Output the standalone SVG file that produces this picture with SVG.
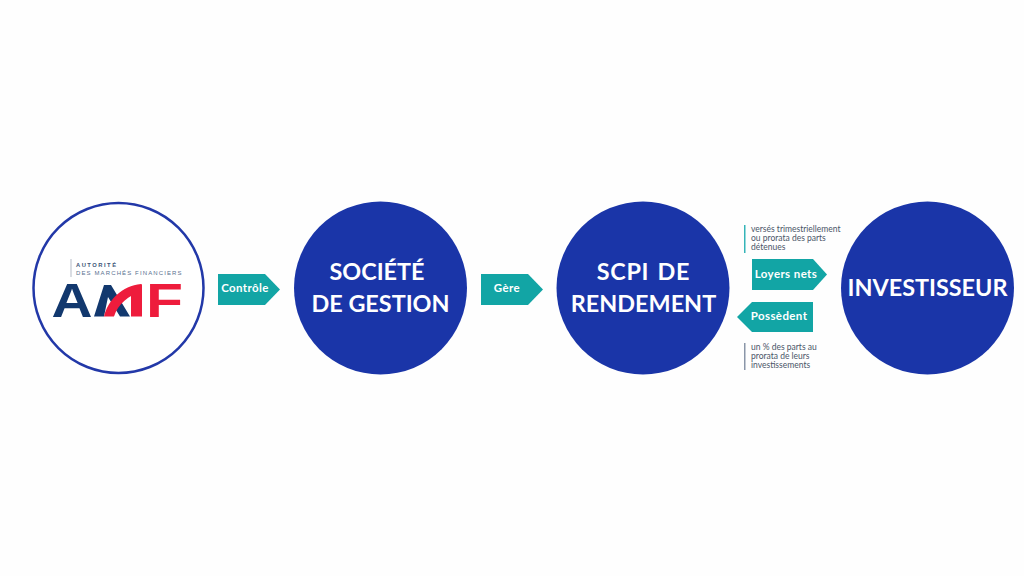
<svg xmlns="http://www.w3.org/2000/svg" width="1024" height="576" viewBox="0 0 1024 576">
<style>
.big{fill:#1a35a8}
.title{font:700 23.400px Lato,"Open Sans",sans-serif;fill:#fff;text-anchor:middle}
.tag{fill:#12a5a5}
.tagt{font:700 11.500px Lato,"Open Sans",sans-serif;fill:#fff;text-anchor:middle;letter-spacing:.4px}
.note{font:400 8.500px Lato,"Open Sans",sans-serif;fill:#4a5568}
.logo{font-family:"Liberation Sans",Arial,sans-serif;font-weight:700}
</style>
<rect width="1024" height="576" fill="#fefefe"/>
<g id="node-amf">
<circle cx="118.500" cy="288" r="85" fill="#fff" stroke="#2238a8" stroke-width="2.500"/>
<rect x="70.500" y="259" width="1" height="18" fill="#b5bcc8"/>
<text x="76" y="266.500" class="logo" font-size="5.800" fill="#3d5578" letter-spacing="1.500">AUTORITÉ</text>
<text x="76" y="274.500" font-family="Liberation Sans,Arial,sans-serif" font-size="6" fill="#5a7090" letter-spacing="1.120">DES MARCHÉS FINANCIERS</text>
<text x="51.500" y="316.500" class="logo" font-size="48" fill="#12386e" textLength="41" lengthAdjust="spacingAndGlyphs">A</text>
<path d="M94 316.500L104 285L111 285L130 316.500L120 316.500L108 297L104 316.500Z" fill="#12386e"/>
<path d="M104 316.500C108 300 122 286 141 284L141 292C129 295 118 304 114 316.500Z" fill="#ee1c3c"/>
<path d="M131 290L142 284L142 316.500L131 316.500Z" fill="#ee1c3c"/>
<text x="146" y="316.500" class="logo" font-size="48" fill="#ee1c3c" textLength="37" lengthAdjust="spacingAndGlyphs">F</text>
</g>
<g id="node-societe">
<circle class="big" cx="380.500" cy="288" r="86.500"/>
<text class="title" x="377" y="280">SOCIÉTÉ</text>
<text class="title" x="380.500" y="312">DE GESTION</text>
</g>
<g id="node-scpi">
<circle class="big" cx="643" cy="288" r="86.500"/>
<text class="title" x="643.500" y="280" word-spacing="2" letter-spacing=".7">SCPI DE</text>
<text class="title" x="643.500" y="312">RENDEMENT</text>
</g>
<g id="node-investisseur">
<circle class="big" cx="927.500" cy="288" r="86.500"/>
<text class="title" x="927.500" y="296">INVESTISSEUR</text>
</g>
<g id="connectors">
<path class="tag" d="M218 274H265L280 289.500L265 305H218Z"/>
<text class="tagt" x="245" y="292">Contrôle</text>
<path class="tag" d="M481 274H528L543 289.500L528 305H481Z"/>
<text class="tagt" x="507" y="292">Gère</text>
<path class="tag" d="M752 259H813L827 274.500L813 290H752Z"/>
<text class="tagt" x="786" y="278">Loyers nets</text>
<path class="tag" d="M813 302H752L737 317L752 332H813Z"/>
<text class="tagt" x="779" y="320">Possèdent</text>
</g>
<g id="notes">
<rect x="744" y="225" width="1.500" height="28" fill="#35b4b8"/>
<text class="note" x="751" y="232">versés trimestriellement</text>
<text class="note" x="751" y="241">ou prorata des parts</text>
<text class="note" x="751" y="250">détenues</text>
<rect x="744" y="343" width="1.500" height="27" fill="#8a96a8"/>
<text class="note" x="751" y="350">un % des parts au</text>
<text class="note" x="751" y="359">prorata de leurs</text>
<text class="note" x="751" y="368">investissements</text>
</g>
</svg>
